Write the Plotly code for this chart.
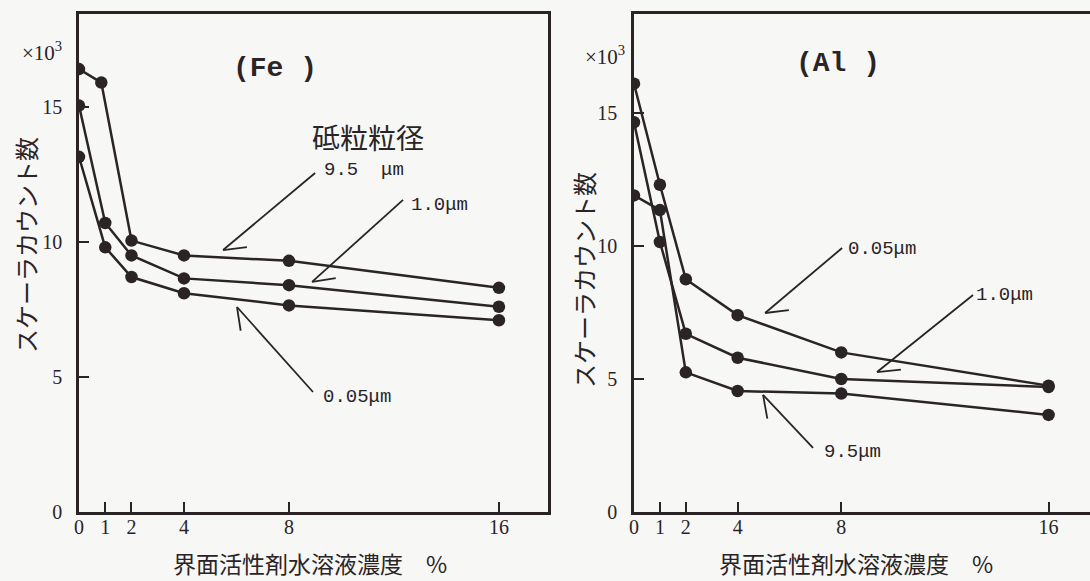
import math
import plotly.graph_objects as go

# ---------------- data ----------------
tick_x = [0, 1, 2, 4, 8, 16]
tick_y = [0, 5, 10, 15]

# (Fe) panel
fe_x_95 = [0, 0.85, 2, 4, 8, 16]
fe_y_95 = [16.4, 15.9, 10.05, 9.5, 9.3, 8.3]
fe_x_10 = [0, 1, 2, 4, 8, 16]
fe_y_10 = [15.05, 10.7, 9.5, 8.65, 8.4, 7.6]
fe_x_005 = [0, 1, 2, 4, 8, 16]
fe_y_005 = [13.15, 9.8, 8.7, 8.1, 7.65, 7.1]

# (Al) panel
al_x_005 = [0, 1, 2, 4, 8, 16]
al_y_005 = [16.1, 12.3, 8.75, 7.4, 6.0, 4.75]
al_x_10 = [0, 1, 2, 4, 8, 16]
al_y_10 = [14.65, 10.15, 6.7, 5.8, 5.0, 4.7]
al_x_95 = [0, 1, 2, 4, 8, 16]
al_y_95 = [11.9, 11.35, 5.25, 4.55, 4.45, 3.65]

panel_titles = ["(Fe )", "(Al )"]
legend_title = "砥粒粒径"
y_title = "スケーラカウント数"
x_title = "界面活性剤水溶液濃度　%"
scale_label = "×10<sup>3</sup>"

# ---------------- styling ----------------
W, H = 1090, 581
INK = "#2a2426"
BG = "#f7f7f6"
SERIF = "Liberation Serif, DejaVu Serif, serif"
MONO = "Liberation Mono, DejaVu Sans Mono, monospace"
CJK = "Noto Sans CJK JP, sans-serif"

# axis geometry (pixels)
L_X0, L_X1 = 79, 548
R_X0, R_X1 = 634, 1090
Y_TOP, Y_BOT = 14, 512
L_XRANGE, L_YRANGE = [0, 17.87], [0, 18.44]
R_XRANGE, R_YRANGE = [0, 17.6], [0, 18.72]

fig = go.Figure()

def add_series(xs, ys, xa, ya):
    fig.add_trace(go.Scatter(
        x=xs, y=ys, xaxis=xa, yaxis=ya, mode="lines+markers",
        line=dict(color=INK, width=2.5),
        marker=dict(color=INK, size=12.5),
        showlegend=False, hoverinfo="skip"))

add_series(fe_x_95, fe_y_95, "x", "y")
add_series(fe_x_10, fe_y_10, "x", "y")
add_series(fe_x_005, fe_y_005, "x", "y")
add_series(al_x_005, al_y_005, "x2", "y2")
add_series(al_x_10, al_y_10, "x2", "y2")
add_series(al_x_95, al_y_95, "x2", "y2")

ydom = [1 - Y_BOT / H, 1 - Y_TOP / H]
common_axis = dict(
    showgrid=False, zeroline=False, showline=True, linecolor=INK, linewidth=2.5,
    ticks="inside", ticklen=10, tickwidth=2, tickcolor=INK,
    tickfont=dict(family=SERIF, size=20, color=INK), automargin=False,
)

fig.update_layout(
    width=W, height=H,
    margin=dict(l=0, r=0, t=0, b=0),
    paper_bgcolor=BG, plot_bgcolor=BG,
    xaxis=dict(common_axis, domain=[L_X0 / W, L_X1 / W], range=L_XRANGE,
               tickvals=tick_x, mirror=True, anchor="y", ticklabelstandoff=-5),
    yaxis=dict(common_axis, domain=ydom, range=L_YRANGE,
               tickvals=tick_y, mirror=True, anchor="x", ticklabelstandoff=10),
    xaxis2=dict(common_axis, domain=[R_X0 / W, R_X1 / W], range=R_XRANGE,
                tickvals=tick_x, mirror=True, anchor="y2", ticklabelstandoff=-5),
    yaxis2=dict(common_axis, domain=ydom, range=R_YRANGE,
                tickvals=tick_y, mirror=False, anchor="x2", ticklabelstandoff=10),
)

def px(xp, yp):
    return xp / W, 1 - yp / H

def text_at(xp, yp, text, font, xanchor="center", angle=0):
    x, y = px(xp, yp)
    fig.add_annotation(x=x, y=y, xref="paper", yref="paper", text=text,
                       showarrow=False, font=font, xanchor=xanchor,
                       yanchor="middle", textangle=angle)

# panel titles, scale labels, axis titles
text_at(275, 68, "<b>" + panel_titles[0] + "</b>", dict(family=MONO, size=28, color=INK))
text_at(838, 63, "<b>" + panel_titles[1] + "</b>", dict(family=MONO, size=28, color=INK))
text_at(368, 137, legend_title, dict(family=CJK, size=28, color=INK))
text_at(42, 52, scale_label, dict(family=SERIF, size=21, color=INK))
text_at(605, 56, scale_label, dict(family=SERIF, size=21, color=INK))
text_at(25, 245, y_title, dict(family=CJK, size=24, color=INK), angle=-90)
text_at(583, 280, y_title, dict(family=CJK, size=24, color=INK), angle=-90)
text_at(310, 563, x_title, dict(family=CJK, size=23, color=INK))
text_at(856, 563, x_title, dict(family=CJK, size=23, color=INK))

# series labels
lab_font = dict(family=MONO, size=19, color=INK)
text_at(322, 170, "9.5  μm", lab_font, xanchor="left")
text_at(409, 205, "1.0μm", lab_font, xanchor="left")
text_at(321, 397, "0.05μm", lab_font, xanchor="left")
text_at(846, 249, "0.05μm", lab_font, xanchor="left")
text_at(974, 295, "1.0μm", lab_font, xanchor="left")
text_at(822, 452, "9.5μm", lab_font, xanchor="left")

# pointer arrows: head in data coords, tail offset in pixels, one-sided barb
def pointer(panel, hx, hy, ax, ay, theta=33, blen=24):
    if panel == 0:
        xa, ya = "x", "y"
        sx = (L_X1 - L_X0) / (L_XRANGE[1] - L_XRANGE[0])
        sy = (Y_BOT - Y_TOP) / (L_YRANGE[1] - L_YRANGE[0])
    else:
        xa, ya = "x2", "y2"
        sx = (R_X1 - R_X0) / (R_XRANGE[1] - R_XRANGE[0])
        sy = (Y_BOT - Y_TOP) / (R_YRANGE[1] - R_YRANGE[0])
    a = math.atan2(ay, ax) + math.radians(theta)
    bx, by = blen * math.cos(a), blen * math.sin(a)
    for dx, dy in ((ax, ay), (bx, by)):
        fig.add_shape(type="line", xref=xa, yref=ya,
                      x0=hx, y0=hy, x1=hx + dx / sx, y1=hy - dy / sy,
                      line=dict(color=INK, width=1.8))

pointer(0, 5.49, 9.7, 92, -77)
pointer(0, 8.88, 8.52, 91, -82)
pointer(0, 6.02, 7.59, 76, 85)
pointer(1, 5.06, 7.48, 77, -65)
pointer(1, 9.38, 5.26, 96, -77)
pointer(1, 4.98, 4.4, 50, 53)

fig.write_html("out.html", config={"displayModeBar": False},
               post_script="document.body.style.margin='0';document.body.style.background='%s';" % BG)
